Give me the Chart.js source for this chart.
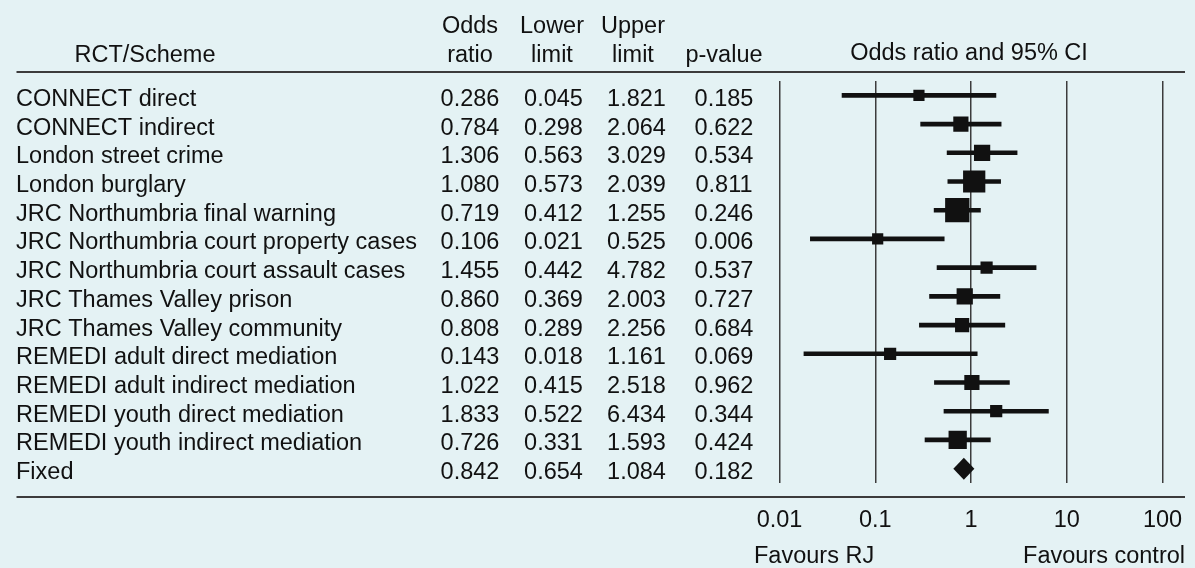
<!DOCTYPE html>
<html>
<head>
<meta charset="utf-8">
<title>Forest plot</title>
<script src="https://cdn.jsdelivr.net/npm/chart.js@4/dist/chart.umd.min.js"></script>
<style>
  html, body { margin: 0; padding: 0; background: #e4f2f4; }
  #forest { display: block; }
</style>
</head>
<body>
<canvas id="forest" width="1195" height="568"></canvas>
<script>
const schemes = [
    'CONNECT direct',
    'CONNECT indirect',
    'London street crime',
    'London burglary',
    'JRC Northumbria final warning',
    'JRC Northumbria court property cases',
    'JRC Northumbria court assault cases',
    'JRC Thames Valley prison',
    'JRC Thames Valley community',
    'REMEDI adult direct mediation',
    'REMEDI adult indirect mediation',
    'REMEDI youth direct mediation',
    'REMEDI youth indirect mediation',
    'Fixed'
];
const oddsRatio  = [0.286, 0.784, 1.306, 1.080, 0.719, 0.106, 1.455, 0.860, 0.808, 0.143, 1.022, 1.833, 0.726, 0.842];
const lowerLimit = [0.045, 0.298, 0.563, 0.573, 0.412, 0.021, 0.442, 0.369, 0.289, 0.018, 0.415, 0.522, 0.331, 0.654];
const upperLimit = [1.821, 2.064, 3.029, 2.039, 1.255, 0.525, 4.782, 2.003, 2.256, 1.161, 2.518, 6.434, 1.593, 1.084];
const pValues    = ['0.185', '0.622', '0.534', '0.811', '0.246', '0.006', '0.537', '0.727', '0.684', '0.069', '0.962', '0.344', '0.424', '0.182'];
// relative study weights (%)
const studyWeights = [3.8, 7.0, 8.0, 15.0, 17.9, 3.8, 4.5, 8.0, 6.1, 4.5, 7.0, 4.5, 10.1];
const xTickValues = [0.01, 0.1, 1, 10, 100];
const xTickLabels = ['0.01', '0.1', '1', '10', '100'];

const FONT = '"Liberation Sans", Arial, Helvetica, sans-serif';
const FONT_SIZE = 23.5;
const INK = '#111111';
const RULE = '#3c3c3c';
const nStudies = schemes.length - 1;

// side of square grows with sqrt of weight; rect point side = sqrt(2) * radius
const squareRadius = studyWeights.map(w => Math.sqrt(w * 33) / Math.SQRT2);

const tablePlugin = {
    id: 'forestTable',
    afterDatasetsDraw(chart) {
        const { ctx, scales: { x, y } } = chart;
        const i = nStudies;
        const cy = y.getPixelForValue(i);
        ctx.save();
        ctx.fillStyle = INK;
        ctx.beginPath();
        ctx.moveTo(x.getPixelForValue(lowerLimit[i]), cy);
        ctx.lineTo(x.getPixelForValue(oddsRatio[i]), cy - 11);
        ctx.lineTo(x.getPixelForValue(upperLimit[i]), cy);
        ctx.lineTo(x.getPixelForValue(oddsRatio[i]), cy + 11);
        ctx.closePath();
        ctx.fill();
        ctx.restore();
    },
    afterDraw(chart) {
        const { ctx, scales: { y } } = chart;
        ctx.save();
        ctx.font = FONT_SIZE + 'px ' + FONT;
        ctx.fillStyle = INK;
        ctx.textBaseline = 'alphabetic';

        const text = (s, px, py, align) => {
            ctx.textAlign = align || 'center';
            ctx.fillText(s, px, py);
        };

        // header
        text('RCT/Scheme', 145, 61.7);
        text('Odds', 470, 33.3);
        text('ratio', 470, 61.7);
        text('Lower', 552, 33.3);
        text('limit', 552, 61.7);
        text('Upper', 633, 33.3);
        text('limit', 633, 61.7);
        text('p-value', 724, 61.7);
        text('Odds ratio and 95% CI', 969, 59.5);

        // rows
        schemes.forEach((name, i) => {
            const by = y.getPixelForValue(i) + 10.5;
            text(name, 16, by, 'left');
            text(oddsRatio[i].toFixed(3), 470, by);
            text(lowerLimit[i].toFixed(3), 553.5, by);
            text(upperLimit[i].toFixed(3), 636.5, by);
            text(pValues[i], 724, by);
        });

        text('Favours RJ', 754, 563, 'left');
        text('Favours control', 1185, 563, 'right');

        // rules
        ctx.strokeStyle = RULE;
        ctx.lineWidth = 2;
        [72, 497].forEach(ry => {
            ctx.beginPath();
            ctx.moveTo(16.5, ry);
            ctx.lineTo(1185, ry);
            ctx.stroke();
        });
        ctx.restore();
    }
};

new Chart(document.getElementById('forest'), {
    type: 'bar',
    data: {
        labels: schemes,
        datasets: [
            {
                type: 'bar',
                data: schemes.map((s, i) => i < nStudies ? [lowerLimit[i], upperLimit[i]] : null),
                backgroundColor: INK,
                barThickness: 4,
                borderWidth: 0,
                order: 2
            },
            {
                type: 'scatter',
                data: oddsRatio.slice(0, nStudies).map((v, i) => ({ x: v, y: schemes[i] })),
                pointStyle: 'rect',
                pointRadius: squareRadius,
                backgroundColor: INK,
                borderWidth: 0,
                order: 1
            }
        ]
    },
    options: {
        indexAxis: 'y',
        responsive: false,
        animation: false,
        devicePixelRatio: 1,
        layout: { padding: { left: 779.5, right: 32.5, top: 81, bottom: 0 } },
        plugins: {
            legend: { display: false },
            tooltip: { enabled: false }
        },
        scales: {
            x: {
                type: 'logarithmic',
                position: 'bottom',
                min: 0.01,
                max: 100,
                afterBuildTicks: scale => {
                    scale.ticks = xTickValues.map(v => ({ value: v }));
                },
                afterFit: scale => {
                    // labels may overhang into the layout padding
                    scale.height = 85;
                    scale.paddingLeft = 0;
                    scale.paddingRight = 0;
                },
                grid: { color: RULE, lineWidth: 1.5, drawTicks: false },
                border: { display: false },
                ticks: {
                    color: INK,
                    font: { family: FONT, size: FONT_SIZE },
                    padding: 23,
                    maxRotation: 0,
                    autoSkip: false,
                    callback: (value, index) => xTickLabels[index]
                }
            },
            y: {
                type: 'category',
                offset: true,
                display: false
            }
        }
    },
    plugins: [tablePlugin]
});
</script>
</body>
</html>
